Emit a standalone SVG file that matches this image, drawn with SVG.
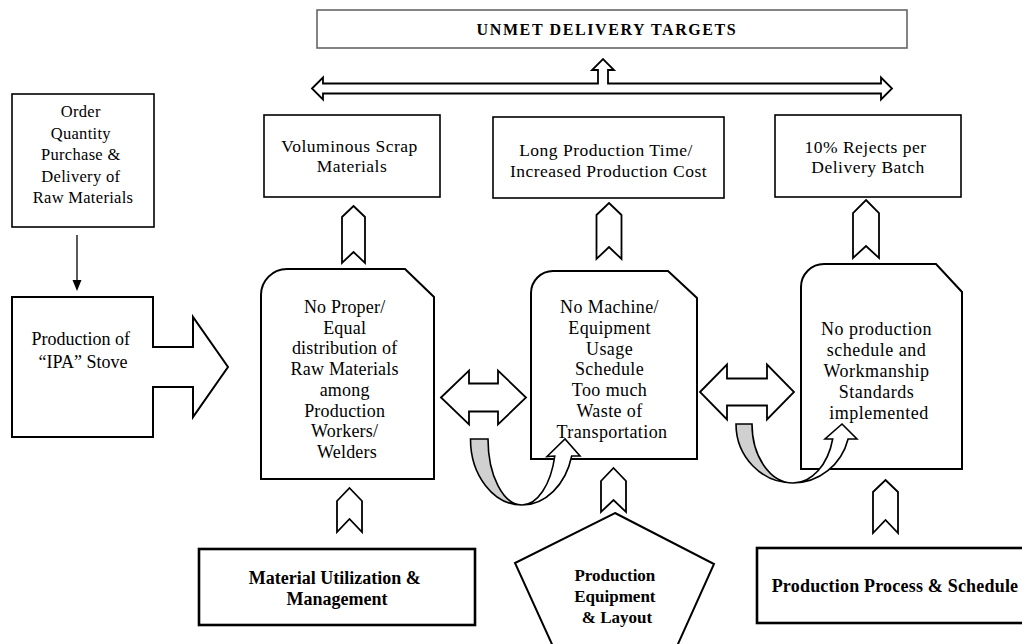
<svg xmlns="http://www.w3.org/2000/svg" width="1022" height="644" viewBox="0 0 1022 644">
  <style>
    .t { font-family: "Liberation Serif", "Times New Roman", serif; fill: #000; text-anchor: middle; }
    .b { font-weight: bold; }
    .box { fill: #fff; stroke: #000; stroke-width: 1.6; }
    .heavy { fill: #fff; stroke: #000; stroke-width: 2.6; }
    .node { fill: #fff; stroke: #000; stroke-width: 2; stroke-linejoin: miter; }
    .arw { fill: #fff; stroke: #000; stroke-width: 1.8; stroke-linejoin: miter; }
    .back { fill: #d0d0d0; stroke: #000; stroke-width: 1.6; }
    .front { fill: #fff; stroke: #000; stroke-width: 1.6; }
  </style>

  <rect width="1022" height="644" fill="#fff"/>

  <!-- headline outcome -->
  <g id="unmet-targets">
    <rect x="317" y="10" width="590" height="38" fill="#fff" stroke="#666" stroke-width="1.6"/>
    <text class="t b" x="607" y="35" font-size="16" letter-spacing="1.6">UNMET DELIVERY TARGETS</text>
  </g>

  <!-- source of supply -->
  <g id="order-quantity">
    <rect class="box" x="12" y="94" width="142" height="133"/>
    <text class="t" font-size="16.5" letter-spacing="0.3">
      <tspan x="83" y="117">Order</tspan>
      <tspan x="83" y="138.5">Quantity</tspan>
      <tspan x="83" y="160">Purchase &amp;</tspan>
      <tspan x="83" y="181.5">Delivery of</tspan>
      <tspan x="83" y="203">Raw Materials</tspan>
    </text>
  </g>

  <g id="production-stove">
    <path class="node" d="M12,297 L153,297 L153,347 L193,347 L193,317 L228,367 L193,417 L193,387 L153,387 L153,437 L12,437 Z"/>
    <text class="t" font-size="18">
      <tspan x="83" y="345">Production of</tspan>
      <tspan x="83" y="368">“IPA” Stove</tspan>
    </text>
  </g>

  <!-- effects -->
  <g id="scrap-materials">
    <rect class="box" x="264" y="115" width="176" height="82"/>
    <text class="t" font-size="17.5" letter-spacing="0.5">
      <tspan x="352" y="152">Voluminous Scrap</tspan>
      <tspan x="352" y="172">Materials</tspan>
    </text>
  </g>

  <g id="long-production-time">
    <rect class="box" x="493" y="117" width="231" height="81"/>
    <text class="t" font-size="17.5" letter-spacing="0.5">
      <tspan x="608.5" y="156">Long Production Time/</tspan>
      <tspan x="608.5" y="177">Increased Production Cost</tspan>
    </text>
  </g>

  <g id="rejects">
    <rect class="box" x="775" y="115" width="186" height="82"/>
    <text class="t" font-size="17.5" letter-spacing="0.5">
      <tspan x="868" y="153">10% Rejects per</tspan>
      <tspan x="868" y="173">Delivery Batch</tspan>
    </text>
  </g>

  <!-- causes -->
  <g id="material-distribution">
    <path class="node" d="M261,479 L261,295 A26,26 0 0 1 287,269 L405,269 L434,297 L434,479 Z"/>
    <text class="t" font-size="18" letter-spacing="0.2">
      <tspan x="347" y="313">No Proper/</tspan>
      <tspan x="347" y="333.7">Equal</tspan>
      <tspan x="347" y="354.4">distribution of</tspan>
      <tspan x="347" y="375.1">Raw Materials</tspan>
      <tspan x="347" y="395.8">among</tspan>
      <tspan x="347" y="416.5">Production</tspan>
      <tspan x="347" y="437.2">Workers/</tspan>
      <tspan x="347" y="457.9">Welders</tspan>
    </text>
  </g>

  <g id="machine-usage">
    <path class="node" d="M531,459 L531,293 A22,22 0 0 1 553,271 L668,271 L697,298 L697,459 Z"/>
    <text class="t" font-size="18" letter-spacing="0.4">
      <tspan x="612" y="313">No Machine/</tspan>
      <tspan x="612" y="333.8">Equipment</tspan>
      <tspan x="612" y="354.6">Usage</tspan>
      <tspan x="612" y="375.4">Schedule</tspan>
      <tspan x="612" y="396.2">Too much</tspan>
      <tspan x="612" y="417">Waste of</tspan>
      <tspan x="612" y="437.8">Transportation</tspan>
    </text>
  </g>

  <g id="production-schedule">
    <path class="node" d="M801,469 L801,287 A23,23 0 0 1 824,264 L936,264 L962,292 L962,469 Z"/>
    <text class="t" font-size="18" letter-spacing="0.5">
      <tspan x="879" y="335">No production</tspan>
      <tspan x="879" y="356">schedule and</tspan>
      <tspan x="879" y="377">Workmanship</tspan>
      <tspan x="879" y="398">Standards</tspan>
      <tspan x="879" y="419">implemented</tspan>
    </text>
  </g>

  <!-- root categories -->
  <g id="material-utilization">
    <rect class="heavy" x="199" y="549" width="276" height="76"/>
    <text class="t b" font-size="18">
      <tspan x="337" y="584">Material Utilization &amp;</tspan>
      <tspan x="337" y="605">Management</tspan>
    </text>
  </g>

  <g id="equipment-layout">
    <polygon class="node" points="615,513 714,564 669,664 561,664 515,563"/>
    <text class="t b" font-size="17">
      <tspan x="617" y="581">Production</tspan>
      <tspan x="617" y="602">Equipment</tspan>
      <tspan x="617" y="623">&amp; Layout</tspan>
    </text>
  </g>

  <g id="process-schedule">
    <rect class="heavy" x="757" y="548" width="275" height="75"/>
    <text class="t b" x="895" y="592" font-size="18" letter-spacing="0.2">Production Process &amp; Schedule</text>
  </g>

  <!-- connectors -->
  <g id="connectors">
    <!-- effects feeding the headline -->
    <path class="arw" stroke-width="1.6" d="M312,88.5 L323,77.5 L323,83.5 L598,83.5 L598,70 L592,70 L603,59 L614,70 L608,70 L608,83.5 L881,83.5 L881,77.5 L892,88.5 L881,99.5 L881,93.5 L323,93.5 L323,99.5 Z"/>

    <!-- supply to production -->
    <line x1="77" y1="235" x2="77" y2="281" stroke="#000" stroke-width="1.3"/>
    <polygon points="72.5,280 81.5,280 77,291" fill="#000"/>

    <!-- causes up to effects -->
    <path class="arw" d="M353.5,206 L365,217 L365,263 L353.5,252 L342,263 L342,217 Z"/>
    <path class="arw" d="M609,203 L621.5,215 L621.5,259 L609,247 L596.5,259 L596.5,215 Z"/>
    <path class="arw" d="M866,200 L879,213 L879,258 L866,246 L853,258 L853,213 Z"/>

    <!-- categories up to causes -->
    <path class="arw" d="M349.5,488 L362,501 L362,532 L349.5,519 L337,532 L337,501 Z"/>
    <path class="arw" d="M613.5,468 L626,481 L626,512 L613.5,500 L601,512 L601,481 Z"/>
    <path class="arw" d="M885.5,480 L898,492 L898,533 L885.5,520 L873,533 L873,492 Z"/>

    <!-- links between causes -->
    <path class="arw" d="M441,397.5 L469,370.5 L469,383.5 L498,383.5 L498,370.5 L526,397.5 L498,424.5 L498,411.5 L469,411.5 L469,424.5 Z"/>
    <path class="arw" d="M700,392 L727,364.5 L727,378.5 L767,378.5 L767,364.5 L794,392 L767,419.5 L767,405.5 L727,405.5 L727,419.5 Z"/>

    <!-- curved returns -->
    <path class="back" d="M470.5,439 A51.5,66 0 0 0 522,505 A34,66 0 0 1 488,439 Z"/>
    <path class="front" d="M522,505 A51.5,66 0 0 0 571.7,456 L580,456 L565,439 L547,456.5 L554.8,456 A34,66 0 0 1 522,505 Z"/>

    <path class="back" d="M736,424 A57,59 0 0 0 793,483 A41,59 0 0 1 752,424 Z"/>
    <path class="front" d="M793,483 A57,59 0 0 0 848.1,439 L857,439 L842,424 L825,439 L832.7,439 A41,59 0 0 1 793,483 Z"/>
  </g>
</svg>
